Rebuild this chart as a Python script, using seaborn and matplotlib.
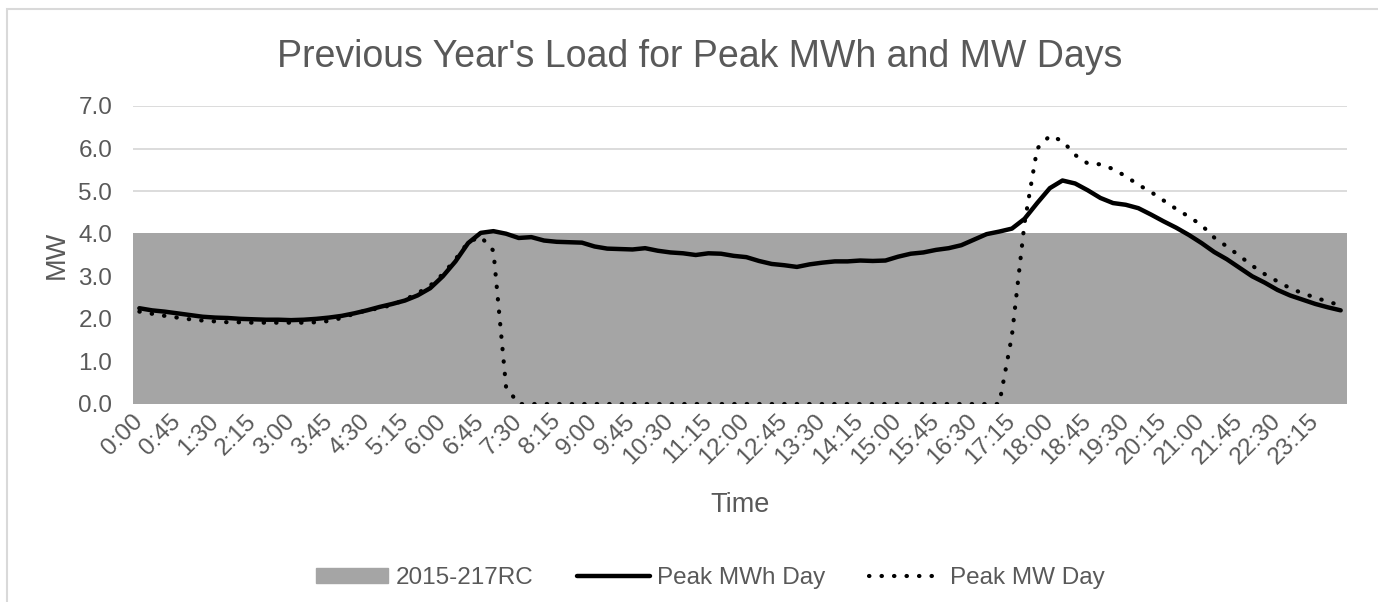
import numpy as np
import pandas as pd
import seaborn as sns
import matplotlib.pyplot as plt
from matplotlib.lines import Line2D
from matplotlib.patches import Patch, Rectangle

# 15-minute intervals over one day
times = [f"{h}:{m:02d}" for h in range(24) for m in (0, 15, 30, 45)]

rc_2015 = [4.0] * 96

peak_mwh_day = [
    2.25, 2.20, 2.17, 2.13, 2.09, 2.05, 2.03, 2.02, 2.00, 1.99,
    1.98, 1.98, 1.97, 1.98, 2.00, 2.03, 2.07, 2.13, 2.20, 2.28,
    2.35, 2.43, 2.55, 2.72, 3.00, 3.35, 3.78, 4.02, 4.06, 4.00,
    3.90, 3.92, 3.84, 3.81, 3.80, 3.79, 3.70, 3.65, 3.64, 3.63,
    3.66, 3.60, 3.56, 3.54, 3.50, 3.54, 3.53, 3.48, 3.45, 3.36,
    3.29, 3.26, 3.22, 3.28, 3.32, 3.35, 3.35, 3.37, 3.36, 3.37,
    3.46, 3.53, 3.56, 3.62, 3.66, 3.73, 3.86, 3.99, 4.05, 4.12,
    4.35, 4.72, 5.07, 5.25, 5.18, 5.02, 4.84, 4.72, 4.68, 4.60,
    4.45, 4.29, 4.14, 3.97, 3.78, 3.57, 3.40, 3.20, 3.00, 2.85,
    2.68, 2.55, 2.45, 2.35, 2.27, 2.20,
]

peak_mw_day = [
    2.17, 2.12, 2.07, 2.03, 1.99, 1.96, 1.94, 1.92, 1.92, 1.91,
    1.91, 1.91, 1.91, 1.91, 1.92, 1.95, 2.02, 2.12, 2.20, 2.25,
    2.33, 2.45, 2.60, 2.78, 3.05, 3.40, 3.80, 3.93, 3.60, 0.40,
    0.0, 0.0, 0.0, 0.0, 0.0, 0.0, 0.0, 0.0, 0.0, 0.0,
    0.0, 0.0, 0.0, 0.0, 0.0, 0.0, 0.0, 0.0, 0.0, 0.0,
    0.0, 0.0, 0.0, 0.0, 0.0, 0.0, 0.0, 0.0, 0.0, 0.0,
    0.0, 0.0, 0.0, 0.0, 0.0, 0.0, 0.0, 0.0, 0.0, 1.60,
    4.25, 6.00, 6.30, 6.18, 5.85, 5.65, 5.63, 5.52, 5.35, 5.15,
    4.98, 4.78, 4.58, 4.40, 4.20, 3.91, 3.70, 3.48, 3.25, 3.05,
    2.88, 2.72, 2.60, 2.50, 2.40, 2.32,
]

df = pd.DataFrame({
    'idx': np.arange(len(times)),
    'time': times,
    'rc': rc_2015,
    'mwh': peak_mwh_day,
    'mw': peak_mw_day,
})

sns.set_style('white')
plt.rcParams['font.family'] = ['Liberation Sans', 'DejaVu Sans']

text_col = '#595959'
area_col = '#a5a5a5'
grid_col = '#d9d9d9'

fig, ax = plt.subplots(figsize=(13.78, 6.02), dpi=100)
fig.subplots_adjust(left=133 / 1378, right=1347 / 1378, top=1 - 106 / 602, bottom=1 - 404 / 602)

# light chart border (cropped at right / bottom)
fig.patches.append(Rectangle((7 / 1378, -0.1), 1.2, 1.1 - 9 / 602, transform=fig.transFigure,
                             fill=False, edgecolor=grid_col, linewidth=1.5))

# gridlines under everything
for v in range(0, 8):
    ax.axhline(v, color=grid_col, linewidth=1.3, zorder=0)

# area series drawn as touching bars (no antialiasing -> no seams)
bars = ax.bar(df['idx'], df['rc'], width=1.0, color=area_col, edgecolor=area_col,
              linewidth=0.8, zorder=1)
for b in bars:
    b.set_antialiased(False)

sns.lineplot(x='idx', y='mwh', data=df, ax=ax, color='black', linewidth=3.2, zorder=3)
sns.lineplot(x='idx', y='mw', data=df, ax=ax, color='black', linewidth=3.0, zorder=4,
             dashes=False)
ax.lines[-1].set_linestyle((0, (0.1, 2.9)))
ax.lines[-1].set_dash_capstyle('round')

ax.set_xlim(-0.5, 95.5)
ax.set_ylim(0, 7)
ax.set_yticks(range(0, 8))
ax.set_yticklabels([f"{v:.1f}" for v in range(0, 8)])
ax.set_xticks(df['idx'][::3])
ax.set_xticklabels(df['time'][::3], rotation=45, ha='right', va='center', rotation_mode='anchor')
ax.tick_params(axis='both', length=0, labelsize=17.5, colors=text_col)
ax.tick_params(axis='y', pad=15)
ax.tick_params(axis='x', pad=10)
sns.despine(ax=ax, left=True, bottom=True)

ax.set_xlabel('')
ax.set_ylabel('')
fig.text(740 / 1378, 1 - 505 / 602, 'Time', ha='center', va='center', fontsize=19.5, color=text_col)
fig.text(57 / 1378, 1 - 255 / 602, 'MW', ha='center', va='center', rotation=90, fontsize=19.5, color=text_col)
fig.text(700 / 1378, 1 - 57 / 602, "Previous Year's Load for Peak MWh and MW Days",
         ha='center', va='center', fontsize=27, color=text_col)

handles = [
    Patch(facecolor=area_col, edgecolor=area_col),
    Line2D([0], [0], color='black', linewidth=3.2),
    Line2D([0], [0], color='black', linewidth=3.0, linestyle=(0, (0.1, 2.9)), dash_capstyle='round'),
]
labels = ['2015-217RC', 'Peak MWh Day', 'Peak MW Day']
leg = fig.legend(handles, labels, loc='center', bbox_to_anchor=(710 / 1378, 1 - 578 / 602), ncol=3,
                 frameon=False, fontsize=17.5, handlelength=3.0, handleheight=0.6,
                 handletextpad=0.3, columnspacing=1.8, labelcolor=text_col)

fig.savefig('out.png', dpi=100)
